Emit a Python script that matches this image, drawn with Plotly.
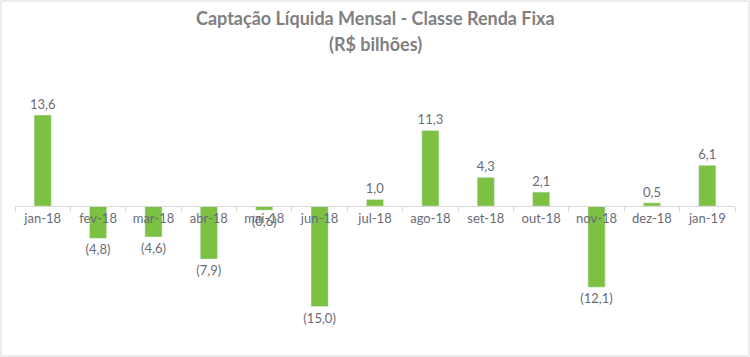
import plotly.graph_objects as go

categories = ["jan-18", "fev-18", "mar-18", "abr-18", "mai-18", "jun-18", "jul-18",
              "ago-18", "set-18", "out-18", "nov-18", "dez-18", "jan-19"]
values = [13.6, -4.8, -4.6, -7.9, -0.6, -15.0, 1.0, 11.3, 4.3, 2.1, -12.1, 0.5, 6.1]
title_lines = ["Captação Líquida Mensal - Classe Renda Fixa", "(R$ bilhões)"]


def fmt(v):
    s = f"{abs(v):.1f}".replace(".", ",")
    return f"({s})" if v < 0 else s


labels = [fmt(v) for v in values]

W, H = 750, 357
ml, mr, mt, mb = 15, 15, 99, 37
ymin, ymax = -17, 16
pw = W - ml - mr
ph = H - mt - mb
font = "Lato, Open Sans, sans-serif"
txtcol = "#6b6b75"

fig = go.Figure()
fig.add_trace(go.Bar(
    x=categories, y=values, marker_color="#7DC142", width=0.31,
    text=labels, textposition="outside", cliponaxis=False, constraintext="none",
    textfont=dict(family=font, size=13, color=txtcol),
    xaxis="x2", hoverinfo="skip",
))

zero_pos = (0 - ymin) / (ymax - ymin)

fig.update_layout(
    width=W, height=H,
    margin=dict(l=ml, r=mr, t=mt, b=mb),
    paper_bgcolor="white", plot_bgcolor="white",
    showlegend=False,
    xaxis=dict(visible=False, type="category", categoryorder="array", categoryarray=categories),
    xaxis2=dict(type="category", categoryorder="array", categoryarray=categories,
                anchor="free", position=zero_pos,
                showline=True, linecolor="#d9d9d9", linewidth=1,
                ticks="outside", tickson="boundaries", ticklen=5, tickcolor="#d9d9d9",
                tickfont=dict(family=font, size=13, color=txtcol),
                showgrid=False, zeroline=False, domain=[0, 1]),
    yaxis=dict(range=[ymin, ymax], visible=False, showgrid=False, zeroline=False),
    bargap=0.69,
)

for txt, ypix in zip(title_lines, [18, 44]):
    fig.add_annotation(text=f"<b>{txt}</b>", xref="paper", yref="paper",
                       x=(375 - ml) / pw, y=(mt + ph - ypix) / ph,
                       xanchor="center", yanchor="middle", showarrow=False,
                       font=dict(family=font, size=18, color="#808080"))

fig.add_shape(type="rect", xref="paper", yref="paper",
              x0=(1 - ml) / pw, x1=(W - 1 - ml) / pw,
              y0=-(H - 1 - mt - ph) / ph, y1=(ph + mt - 1) / ph,
              line=dict(color="#d9d9d9", width=1), fillcolor="rgba(0,0,0,0)", layer="below")

fig.write_html("out.html", config={"displayModeBar": False},
               post_script="document.body.style.margin='0';")
